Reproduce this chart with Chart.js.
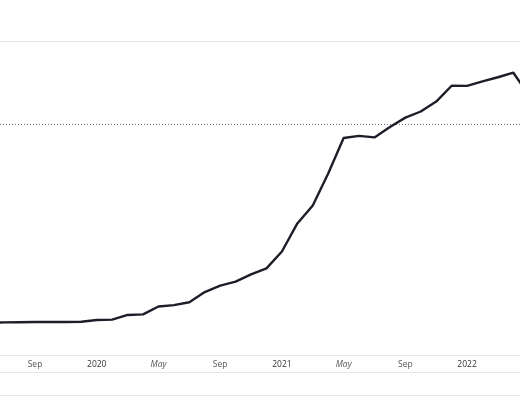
<!DOCTYPE html>
<html>
<head>
<meta charset="utf-8">
<script src="https://cdn.jsdelivr.net/npm/chart.js@4"></script>
<style>
  html, body { margin: 0; padding: 0; background: #fff; }
  #wrap { width: 520px; height: 400px; position: relative; }
</style>
</head>
<body>
<div id="wrap"><canvas id="chart"></canvas></div>
<script>
// monthly points, Jun 2019 .. May 2022
const months = [
  "Jun", "Jul", "Aug", "Sep", "Oct", "Nov", "Dec",
  "2020", "Feb", "Mar", "Apr", "May", "Jun", "Jul", "Aug", "Sep", "Oct", "Nov", "Dec",
  "2021", "Feb", "Mar", "Apr", "May", "Jun", "Jul", "Aug", "Sep", "Oct", "Nov", "Dec",
  "2022", "Feb", "Mar", "Apr", "May"
];
const values = [
  10.3, 10.4, 10.45, 10.5, 10.5, 10.5, 10.6,
  11.15, 11.25, 12.75, 12.95, 15.45, 15.9, 16.8, 20.05, 22.1, 23.35, 25.7, 27.6,
  32.95, 41.9, 47.6, 57.8, 69.1, 69.8, 69.3, 72.6, 75.6, 77.55, 80.7, 85.75,
  85.7, 87.15, 88.45, 89.9, 82.8
];
const shownLabels = ["Sep", "2020", "May", "2021", "2022"];
const refLevel = 73.6;
const yTicks = [0, 100];
const xWindow = [0.73, 34.43];

const labelOf = (c) => (c && c.tick ? months[c.tick.value] : "");

const refLine = {
  id: "refLine",
  beforeDatasetsDraw(chart) {
    const { ctx, chartArea, scales } = chart;
    const y = Math.round(scales.y.getPixelForValue(refLevel)) + 0.5;
    ctx.save();
    ctx.strokeStyle = "#6f6f6f";
    ctx.lineWidth = 1;
    ctx.setLineDash([1, 2]);
    ctx.beginPath();
    ctx.moveTo(chartArea.left, y);
    ctx.lineTo(chartArea.right, y);
    ctx.stroke();
    ctx.restore();
  },
  afterDraw(chart) {
    // closing rule under the lower band
    const band = chart.scales.x2;
    const y = Math.round(band.bottom) - 0.5;
    const ctx = chart.ctx;
    ctx.save();
    ctx.strokeStyle = "#e6e6e6";
    ctx.lineWidth = 1;
    ctx.beginPath();
    ctx.moveTo(band.left, y);
    ctx.lineTo(band.right, y);
    ctx.stroke();
    ctx.restore();
  },
};

new Chart(document.getElementById("chart"), {
  type: "line",
  data: {
    datasets: [
      {
        data: values.map((v, i) => ({ x: i, y: v })),
        borderColor: "#1d1d2a",
        borderWidth: 2.4,
        pointRadius: 0,
        tension: 0,
        borderJoinStyle: "round",
      },
    ],
  },
  options: {
    responsive: true,
    maintainAspectRatio: false,
    animation: false,
    events: [],
    layout: { padding: { top: 41, bottom: 4, left: 0, right: 0 } },
    plugins: { legend: { display: false }, tooltip: { enabled: false } },
    scales: {
      x: {
        type: "linear",
        position: "bottom",
        min: xWindow[0],
        max: xWindow[1],
        afterBuildTicks: (scale) => {
          scale.ticks = months
            .map((m, i) => ({ value: i, m }))
            .filter((t) => shownLabels.includes(t.m))
            .filter((t) => t.value > xWindow[0] && t.value < xWindow[1])
            .map((t) => ({ value: t.value }));
        },
        afterFit: (scale) => { scale.height = 17; },
        ticks: {
          autoSkip: false,
          maxRotation: 0,
          padding: 4,
          callback: (v) => months[v],
          color: (c) => (/^\d/.test(labelOf(c)) ? "#333" : "#555"),
          font: (c) => ({
            family: "'Open Sans', 'Noto Sans', sans-serif",
            size: 8.5,
            style: labelOf(c) === "May" ? "italic" : "normal",
          }),
        },
        grid: { display: false, drawTicks: false },
        border: { display: true, color: "#e6e6e6", width: 1 },
      },
      x2: {
        type: "linear",
        position: "bottom",
        min: xWindow[0],
        max: xWindow[1],
        afterFit: (scale) => { scale.height = 24; },
        ticks: { display: false },
        grid: { display: false, drawTicks: false },
        border: { display: true, color: "#e6e6e6", width: 1 },
      },
      y: {
        min: yTicks[0],
        max: yTicks[yTicks.length - 1],
        afterBuildTicks: (scale) => {
          scale.ticks = yTicks.map((v) => ({ value: v }));
        },
        afterFit: (scale) => { scale.width = 0; },
        ticks: { display: false },
        grid: { color: "#e6e6e6", lineWidth: 1, drawTicks: false },
        border: { display: false },
      },
    },
  },
  plugins: [refLine],
});
</script>
</body>
</html>
